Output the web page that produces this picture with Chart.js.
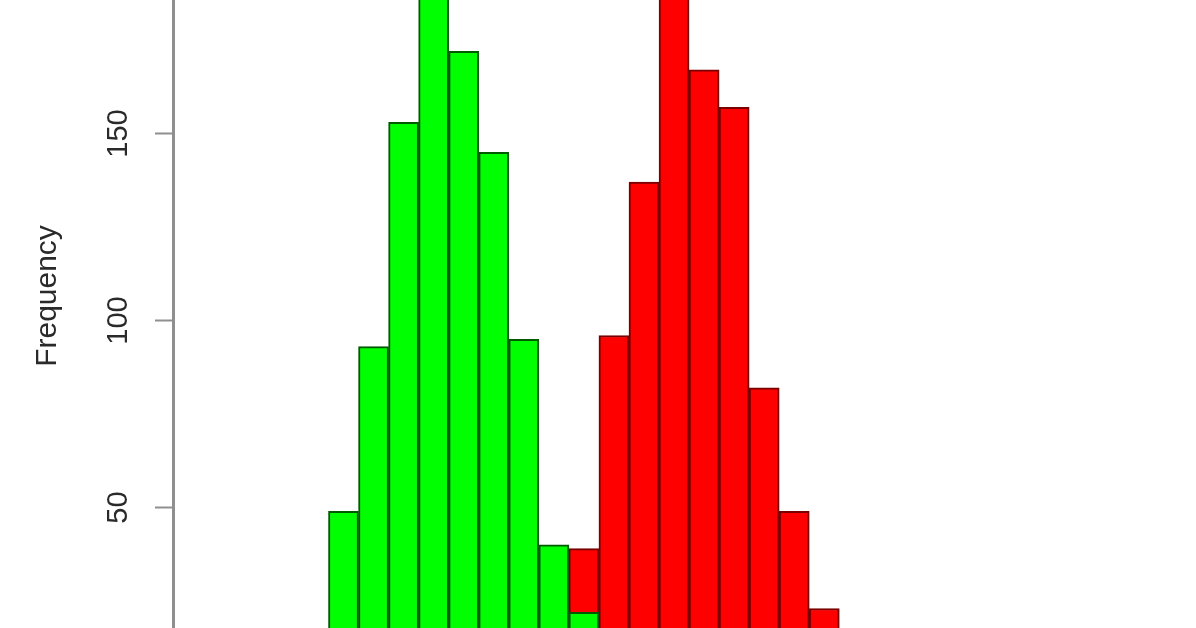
<!DOCTYPE html>
<html>
<head>
<meta charset="utf-8">
<script src="https://cdn.jsdelivr.net/npm/chart.js@4.4.1/dist/chart.umd.min.js"></script>
<style>
  html, body { margin: 0; padding: 0; background: #fff; overflow: hidden; }
  canvas { display: block; }
</style>
</head>
<body>
<canvas id="histChart" width="1196" height="628"></canvas>
<script>
// histogram bins (index of each bin, left to right)
const bins = [0, 1, 2, 3, 4, 5, 6, 7, 8, 9, 10, 11, 12, 13, 14, 15, 16];
const greenCounts = [49, 93, 153, 190, 172, 145, 95, 40, 22, null, null, null, null, null, null, null, null];
const redCounts = [null, null, null, null, null, null, null, null, 39, 96, 137, 195, 167, 157, 82, 49, 23];
const yTicks = [50, 100, 150];
const yTitle = 'Frequency';

const toPoints = (counts) => bins.map((b, i) => ({ x: b, y: counts[i] }));

// draws the rotated y title (the full R plot is taller than this crop)
const yTitlePlugin = {
    id: 'yTitle',
    afterDraw(chart) {
        const c = chart.ctx;
        c.save();
        c.translate(48, 296);
        c.rotate(-Math.PI / 2);
        c.font = '30px "Liberation Sans", Arial, sans-serif';
        c.fillStyle = '#2a2a2a';
        c.textAlign = 'center';
        c.textBaseline = 'middle';
        c.fillText(yTitle, 0, 0);
        c.restore();
    }
};

const ctx = document.getElementById('histChart').getContext('2d');
const histChart = new Chart(ctx, {
    type: 'bar',
    data: {
        datasets: [
            {
                label: 'green',
                data: toPoints(greenCounts),
                backgroundColor: '#00ff00',
                borderColor: '#005a00',
                borderWidth: 2,
                borderSkipped: 'start'
            },
            {
                label: 'red',
                data: toPoints(redCounts),
                backgroundColor: '#ff0000',
                borderColor: '#7a0000',
                borderWidth: 2,
                borderSkipped: 'start'
            }
        ]
    },
    options: {
        responsive: false,
        animation: false,
        devicePixelRatio: 1,
        layout: { padding: 0 },
        datasets: {
            bar: {
                grouped: false,
                barPercentage: 1,
                categoryPercentage: 1
            }
        },
        scales: {
            x: {
                type: 'linear',
                display: false,
                offset: false,
                min: -5.674,
                max: 28.37
            },
            y: {
                type: 'linear',
                position: 'left',
                min: 17.78,
                max: 185.7,
                afterFit(scale) {
                    scale.width = 173;
                    scale.paddingTop = 0;
                    scale.paddingBottom = 0;
                },
                afterBuildTicks(scale) {
                    scale.ticks = yTicks.map(v => ({ value: v }));
                },
                border: { display: true, color: '#8f8f8f', width: 3 },
                grid: {
                    display: true,
                    drawOnChartArea: false,
                    drawTicks: true,
                    tickLength: 18,
                    tickColor: '#8f8f8f',
                    tickWidth: 2
                },
                ticks: {
                    minRotation: 90,
                    maxRotation: 90,
                    crossAlign: 'center',
                    padding: 12,
                    color: '#2a2a2a',
                    font: { family: '"Liberation Sans", Arial, sans-serif', size: 29 }
                }
            }
        },
        plugins: {
            legend: { display: false },
            tooltip: { enabled: false }
        }
    },
    plugins: [yTitlePlugin]
});
</script>
</body>
</html>
